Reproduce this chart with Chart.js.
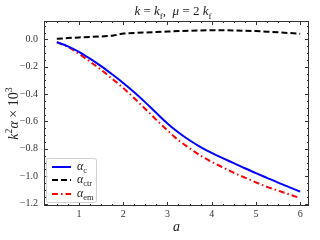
<!DOCTYPE html>
<html>
<head>
<meta charset="UTF-8">
<script src="https://cdn.jsdelivr.net/npm/chart.js"></script>
<style>
  body { margin: 0; background: #fff; }
  .wrap { width: 320px; height: 240px; }
</style>
</head>
<body>
<div class="wrap"><canvas id="c" width="320" height="240"></canvas></div>
<script>
// data
const aVals = [0.5, 0.75, 1.0, 1.25, 1.5, 1.75, 2.0, 2.25, 2.5, 2.75, 3.0, 3.25, 3.5, 3.75, 4.0, 4.25, 4.5, 4.75, 5.0, 5.25, 5.5, 5.75, 6.0];
const alphaC = [-0.02, -0.05, -0.09, -0.14, -0.195, -0.255, -0.318, -0.386, -0.46, -0.538, -0.614, -0.68, -0.737, -0.787, -0.83, -0.868, -0.905, -0.942, -0.977, -1.012, -1.047, -1.08, -1.113];
const alphaCtr = [0.005, 0.01, 0.015, 0.018, 0.022, 0.027, 0.043, 0.047, 0.051, 0.055, 0.058, 0.061, 0.064, 0.066, 0.067, 0.067, 0.066, 0.064, 0.061, 0.057, 0.052, 0.047, 0.042];
const alphaEm = [-0.02, -0.055, -0.105, -0.162, -0.222, -0.287, -0.355, -0.43, -0.508, -0.588, -0.665, -0.737, -0.795, -0.85, -0.895, -0.935, -0.975, -1.01, -1.045, -1.078, -1.105, -1.133, -1.16];
const xTicks = [1, 2, 3, 4, 5, 6];
const yTicks = [0.0, -0.2, -0.4, -0.6, -0.8, -1.0, -1.2];

const serif = "'Liberation Serif', 'DejaVu Serif', serif";

function pts(ys) { return aVals.map((x, i) => ({ x: x, y: ys[i] })); }

// draw a run of text pieces: [text, style] with style 'i' italic, 'r' roman, 'sub', 'sup'
function drawRich(ctx, parts, size, x, y, align) {
  const fontFor = (p) => {
    const s = (p[1] === 'sub' || p[1] === 'sup') ? size * 0.7 : size;
    return (p[1] === 'i' ? 'italic ' : '') + s + 'px ' + serif;
  };
  let w = 0;
  parts.forEach(p => { ctx.font = fontFor(p); w += ctx.measureText(p[0]).width; });
  let cx = align === 'center' ? x - w / 2 : x;
  ctx.textAlign = 'left';
  ctx.textBaseline = 'alphabetic';
  parts.forEach(p => {
    ctx.font = fontFor(p);
    let dy = 0;
    if (p[1] === 'sub') dy = size * 0.28;
    if (p[1] === 'sup') dy = -size * 0.4;
    ctx.fillText(p[0], cx, y + dy);
    cx += ctx.measureText(p[0]).width;
  });
}

const decor = {
  id: 'decor',
  afterDraw(chart) {
    const ctx = chart.ctx;
    const a = chart.chartArea;
    const xs = chart.scales.x, ys = chart.scales.y;
    ctx.save();
    ctx.fillStyle = '#000';
    ctx.strokeStyle = '#333';
    ctx.lineWidth = 1;
    ctx.strokeRect(a.left + 0.5, a.top + 0.5, a.right - a.left - 1, a.bottom - a.top - 1);

    // inward ticks on all four sides
    ctx.beginPath();
    for (let k = 1; k <= 24; k++) {
      const v = k * 0.25;
      const px = Math.round(xs.getPixelForValue(v)) + 0.5;
      const len = (k % 4 === 0) ? 4 : 2;
      ctx.moveTo(px, a.bottom); ctx.lineTo(px, a.bottom - len);
      ctx.moveTo(px, a.top); ctx.lineTo(px, a.top + len);
    }
    for (let k = -24; k <= 2; k++) {
      const v = k * 0.05;
      const px = Math.round(ys.getPixelForValue(v)) + 0.5;
      const len = (k % 4 === 0) ? 4 : 2;
      ctx.moveTo(a.left, px); ctx.lineTo(a.left + len, px);
      ctx.moveTo(a.right, px); ctx.lineTo(a.right - len, px);
    }
    ctx.stroke();

    // title
    ctx.fillStyle = '#222';
    drawRich(ctx, [['k', 'i'], [' = ', 'r'], ['k', 'i'], ['f', 'sub'], [',  ', 'r'], ['\u03bc', 'i'], [' = 2 ', 'r'], ['k', 'i'], ['f', 'sub']], 13, 173, 15, 'center');

    // x label
    drawRich(ctx, [['a', 'i']], 14, (a.left + a.right) / 2, 231, 'center');

    // y label
    ctx.save();
    ctx.translate(18, (a.top + a.bottom) / 2);
    ctx.rotate(-Math.PI / 2);
    drawRich(ctx, [['k', 'i'], ['2', 'sup'], ['\u03b1', 'i'], [' \u00d7 10', 'r'], ['3', 'sup']], 14, 0, 0, 'center');
    ctx.restore();

    // legend
    const lx = 46, ly = 158, lw = 50, lh = 44;
    ctx.fillStyle = 'rgba(255,255,255,0.8)';
    ctx.strokeStyle = '#d0d0d0';
    ctx.beginPath();
    ctx.roundRect(lx + 0.5, ly + 0.5, lw, lh, 2);
    ctx.fill();
    ctx.stroke();
    const items = [
      { color: '#0000ff', dash: [], sub: 'c', y: 167 },
      { color: '#000000', dash: [6, 3], sub: 'ctr', y: 180 },
      { color: '#ff0000', dash: [6, 3, 1.5, 3], sub: 'em', y: 194 }
    ];
    items.forEach(it => {
      ctx.strokeStyle = it.color;
      ctx.lineWidth = 2;
      ctx.setLineDash(it.dash);
      ctx.beginPath();
      ctx.moveTo(52, it.y); ctx.lineTo(71, it.y);
      ctx.stroke();
      ctx.setLineDash([]);
      ctx.fillStyle = '#222';
      drawRich(ctx, [['\u03b1', 'i'], [it.sub, 'sub']], 12, 77, it.y + 3, 'left');
    });
    ctx.restore();
  }
};

const tickFont = { family: serif, size: 10 };
const fmt = v => (v < 0 ? '\u2212' : '') + Math.abs(v).toFixed(1);

new Chart(document.getElementById('c'), {
  type: 'line',
  data: {
    datasets: [
      { label: 'c', data: pts(alphaC), borderColor: '#0000ff', borderWidth: 2, pointRadius: 0, fill: false, cubicInterpolationMode: 'monotone' },
      { label: 'ctr', data: pts(alphaCtr), borderColor: '#000000', borderWidth: 2, borderDash: [6, 3], pointRadius: 0, fill: false },
      { label: 'em', data: pts(alphaEm), borderColor: '#ff0000', borderWidth: 2, borderDash: [6, 3, 1.5, 3], pointRadius: 0, fill: false, cubicInterpolationMode: 'monotone' }
    ]
  },
  options: {
    responsive: false,
    animation: false,
    layout: { padding: { left: 0, top: 21, right: 11, bottom: 0 } },
    plugins: { legend: { display: false }, tooltip: { enabled: false } },
    scales: {
      x: {
        type: 'linear', min: 0.21, max: 6.2,
        afterBuildTicks: s => { s.ticks = xTicks.map(v => ({ value: v })); },
        afterFit: s => { s.height = 34; },
        grid: { display: false, drawTicks: false },
        border: { display: false },
        ticks: { font: tickFont, color: '#333', padding: 2, maxRotation: 0, callback: v => String(v) }
      },
      y: {
        type: 'linear', min: -1.218, max: 0.135,
        afterBuildTicks: s => { s.ticks = yTicks.map(v => ({ value: v })); },
        afterFit: s => { s.width = 44; },
        grid: { display: false, drawTicks: false },
        border: { display: false },
        ticks: { font: tickFont, color: '#333', padding: 6, callback: v => fmt(v) }
      }
    }
  },
  plugins: [decor]
});
</script>
</body>
</html>
